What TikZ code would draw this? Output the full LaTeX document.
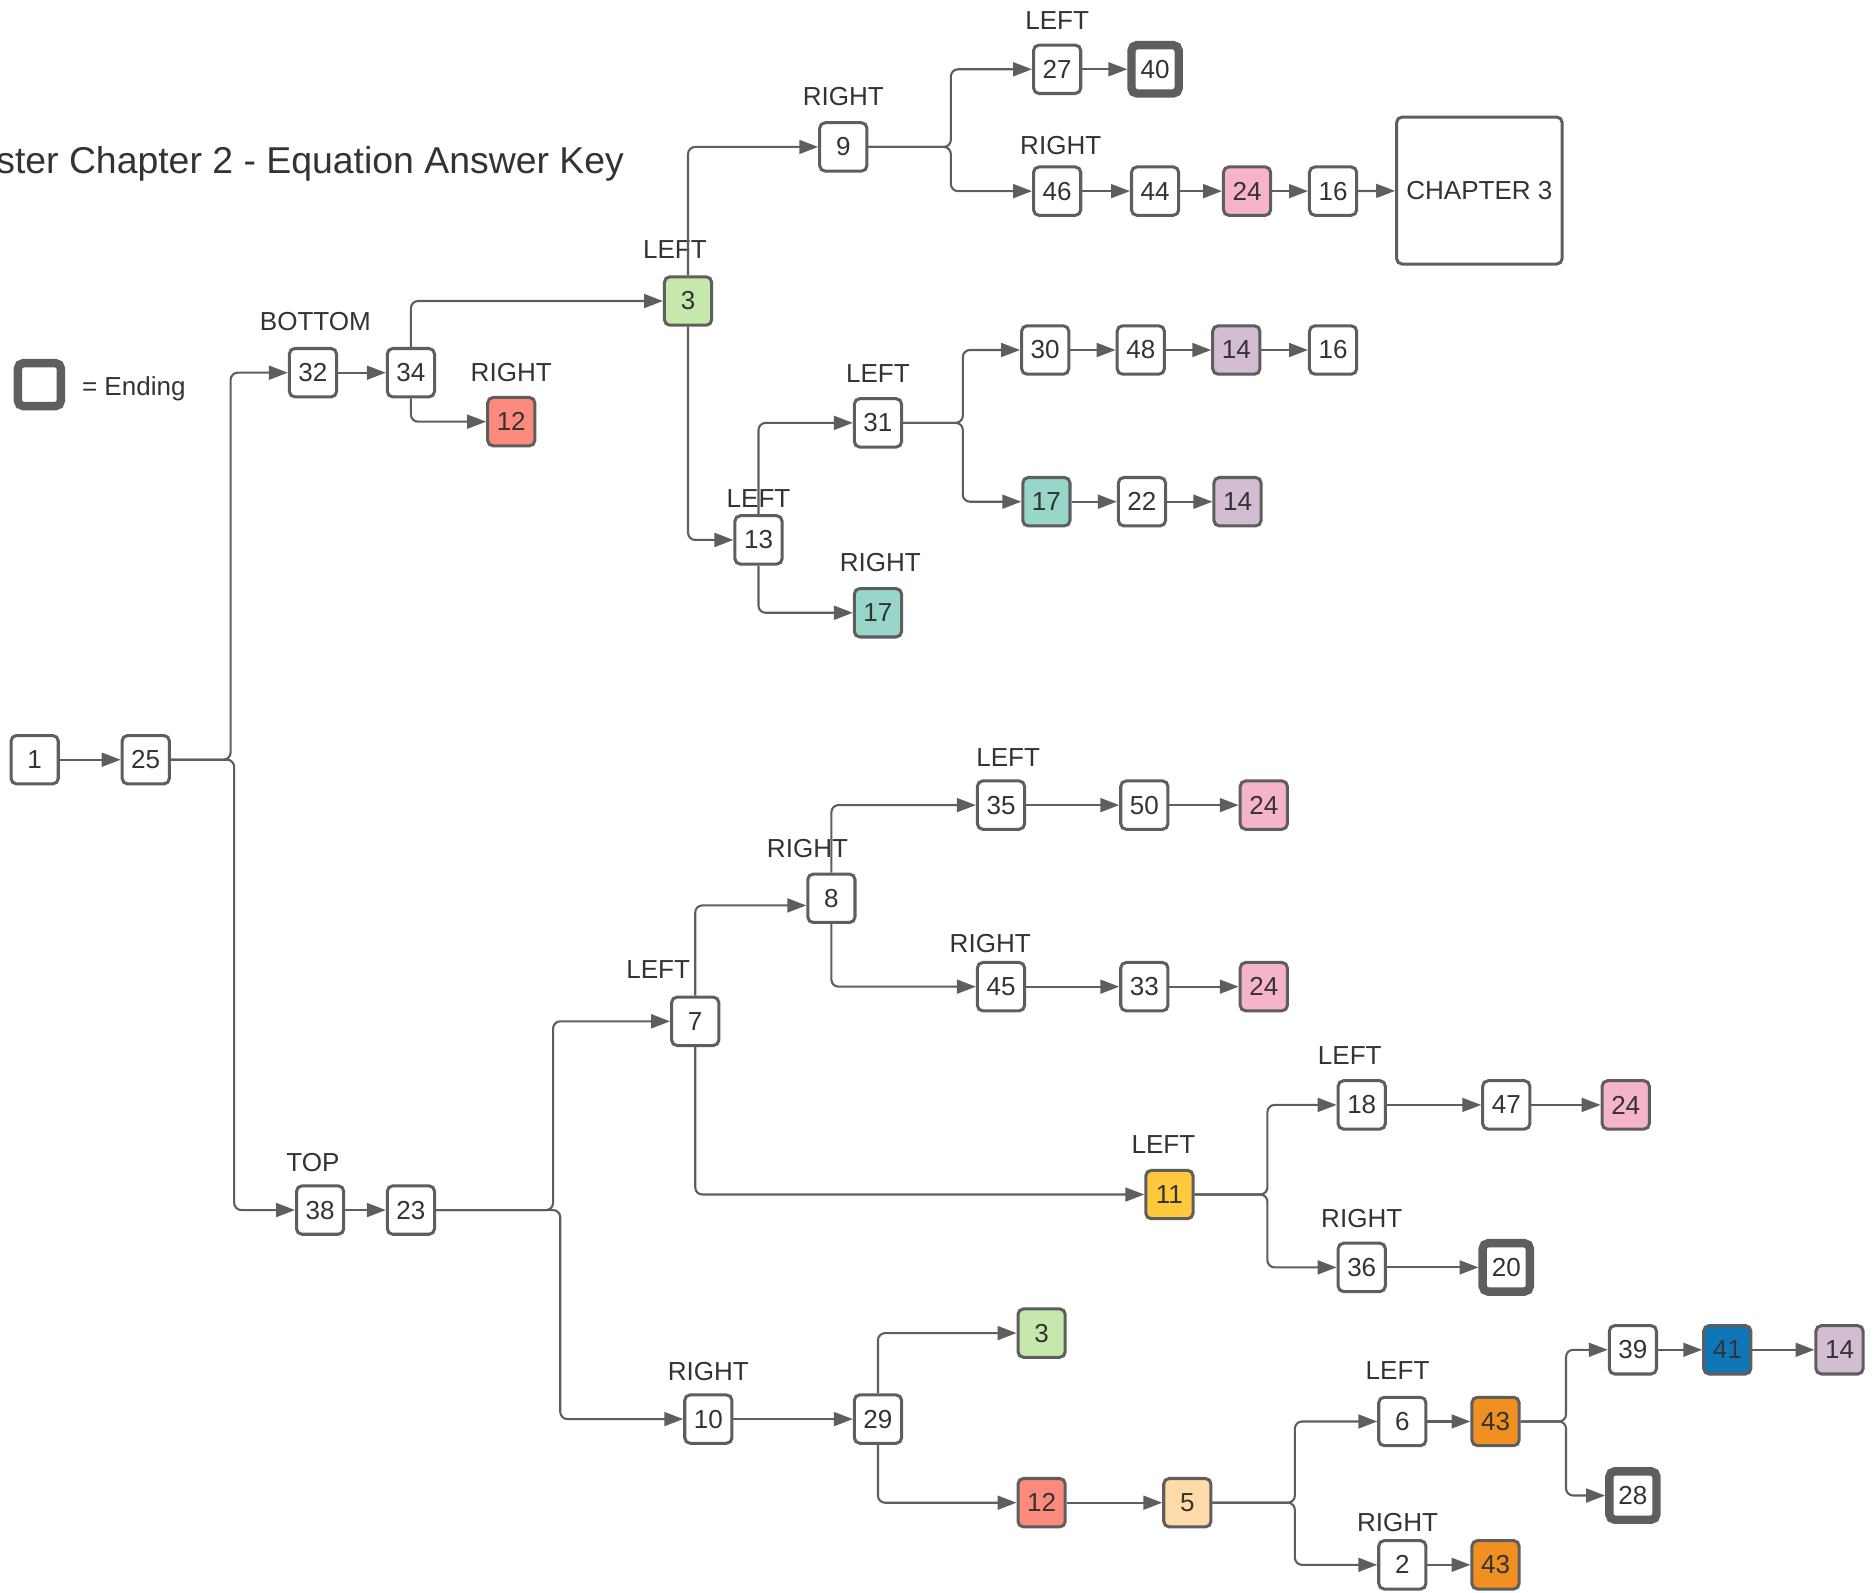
\documentclass[tikz,border=0pt]{standalone}
\usepackage{fontspec}
\setmainfont{Liberation Sans}
\usetikzlibrary{arrows.meta}
\definecolor{nline}{RGB}{94,94,94}
\definecolor{ntext}{RGB}{51,51,51}
\definecolor{nred}{RGB}{252,139,125}
\definecolor{ngreen}{RGB}{199,232,172}
\definecolor{npink}{RGB}{245,180,200}
\definecolor{nteal}{RGB}{153,214,202}
\definecolor{npurple}{RGB}{211,189,211}
\definecolor{nyellow}{RGB}{255,201,61}
\definecolor{npeach}{RGB}{255,219,169}
\definecolor{norange}{RGB}{240,143,34}
\definecolor{nblue}{RGB}{16,118,186}

\begin{document}
\begin{tikzpicture}[x=0.01cm, y=-0.01cm,
    num/.style={draw=nline, fill=white, line width=0.72pt, rounded corners=1.3pt,
        minimum width=0.395cm, minimum height=0.405cm, inner sep=0pt,
        text=ntext, font=\fontsize{6.2pt}{7pt}\selectfont},
    ending/.style={num, line width=2pt},
    tag/.style={inner sep=0pt, text=ntext, font=\fontsize{6.2pt}{7pt}\selectfont},
    link/.style={draw=nline, line width=0.5pt, rounded corners=1.7pt, ->,
        >={Triangle[length=4.5pt,width=3.3pt]}}]
    \useasboundingbox (0,0) rectangle (1568,1333);

    % title and legend
    \node[anchor=base east, inner sep=0pt, text=ntext, font=\fontsize{8.9pt}{10pt}\selectfont]
        (title) at (523,145) {ster Chapter 2 - Equation Answer Key};
    \node[ending, minimum width=0.36cm, minimum height=0.36cm] (legend) at (33,322) {};
    \node[tag, anchor=base west] (legendtxt) at (68,331) {= Ending};

    % start
    \node[num] (n1) at (29,636) {1};
    \node[num] (n25) at (122,636) {25};

    % bottom branch (upper half)
    \node[num] (n32) at (262,312) {32};
    \node[num] (n34) at (344,312) {34};
    \node[num, fill=nred] (n12a) at (428,353) {12};
    \node[num, fill=ngreen] (n3a) at (576,252) {3};
    \node[num] (n9) at (706,123) {9};
    \node[num] (n27) at (885,58) {27};
    \node[ending] (n40) at (967,58) {40};
    \node[num] (n46) at (885,160) {46};
    \node[num] (n44) at (967,160) {44};
    \node[num, fill=npink] (n24a) at (1044,160) {24};
    \node[num] (n16a) at (1116,160) {16};
    \node[num, minimum width=1.385cm, minimum height=1.23cm] (chap) at (1238.5,159.5) {CHAPTER 3};
    \node[num] (n13) at (635,452) {13};
    \node[num] (n31) at (735,354) {31};
    \node[num, fill=nteal] (n17a) at (735,513) {17};
    \node[num] (n30) at (875,293) {30};
    \node[num] (n48) at (955,293) {48};
    \node[num, fill=npurple] (n14a) at (1035,293) {14};
    \node[num] (n16b) at (1116,293) {16};
    \node[num, fill=nteal] (n17b) at (876,420) {17};
    \node[num] (n22) at (956,420) {22};
    \node[num, fill=npurple] (n14b) at (1036,420) {14};

    % top branch (lower half)
    \node[num] (n38) at (268,1013) {38};
    \node[num] (n23) at (344,1013) {23};
    \node[num] (n7) at (582,855) {7};
    \node[num] (n8) at (696,752) {8};
    \node[num] (n35) at (838,674) {35};
    \node[num] (n50) at (958,674) {50};
    \node[num, fill=npink] (n24b) at (1058,674) {24};
    \node[num] (n45) at (838,826) {45};
    \node[num] (n33) at (958,826) {33};
    \node[num, fill=npink] (n24c) at (1058,826) {24};
    \node[num, fill=nyellow] (n11) at (979,1000) {11};
    \node[num] (n18) at (1140,925) {18};
    \node[num] (n47) at (1261,925) {47};
    \node[num, fill=npink] (n24d) at (1361,925) {24};
    \node[num] (n36) at (1140,1061) {36};
    \node[ending] (n20) at (1261,1061) {20};
    \node[num] (n10) at (593,1188) {10};
    \node[num] (n29) at (735,1188) {29};
    \node[num, fill=ngreen] (n3b) at (872,1116) {3};
    \node[num, fill=nred] (n12b) at (872,1258) {12};
    \node[num, fill=npeach] (n5) at (994,1258) {5};
    \node[num] (n6) at (1174,1190) {6};
    \node[num, fill=norange] (n43a) at (1252,1190) {43};
    \node[num] (n2) at (1174,1310) {2};
    \node[num, fill=norange] (n43b) at (1252,1310) {43};
    \node[num] (n39) at (1367,1130) {39};
    \node[num, fill=nblue] (n41) at (1446,1130) {41};
    \node[num, fill=npurple] (n14c) at (1540,1130) {14};
    \node[ending] (n28) at (1367,1252) {28};

    % branch tags
    \node[tag] (t32) at (264,269) {BOTTOM};
    \node[tag] (t12a) at (428,312) {RIGHT};
    \node[tag] (t3a) at (565,209) {LEFT};
    \node[tag] (t9) at (706,81) {RIGHT};
    \node[tag] (t27) at (885,17) {LEFT};
    \node[tag] (t46) at (888,122) {RIGHT};
    \node[tag] (t31) at (735,313) {LEFT};
    \node[tag] (t13) at (635,417) {LEFT};
    \node[tag] (t17a) at (737,471) {RIGHT};
    \node[tag] (t38) at (262,973) {TOP};
    \node[tag] (t7) at (551,812) {LEFT};
    \node[tag] (t8) at (676,710) {RIGHT};
    \node[tag] (t35) at (844,634) {LEFT};
    \node[tag] (t45) at (829,790) {RIGHT};
    \node[tag] (t11) at (974,958) {LEFT};
    \node[tag] (t18) at (1130,884) {LEFT};
    \node[tag] (t36) at (1140,1020) {RIGHT};
    \node[tag] (t10) at (593,1148) {RIGHT};
    \node[tag] (t6) at (1170,1147) {LEFT};
    \node[tag] (t2) at (1170,1275) {RIGHT};

    % connectors
    \draw[link] (n1) -- (n25);
    \draw[link] (n25.east) -- ++(50,0) |- (n32.west);
    \draw[link] (n25.east) -- ++(53,0) |- (n38.west);
    \draw[link] (n32) -- (n34);
    \draw[link] (n34.north) |- (n3a.west);
    \draw[link] (n34.south) |- (n12a.west);
    \draw[link] (n3a.north) |- (n9.west);
    \draw[link] (n3a.south) |- (n13.west);
    \draw[link] (n9.east) -- ++(69,0) |- (n27.west);
    \draw[link] (n9.east) -- ++(69,0) |- (n46.west);
    \draw[link] (n27) -- (n40);
    \draw[link] (n46) -- (n44);
    \draw[link] (n44) -- (n24a);
    \draw[link] (n24a) -- (n16a);
    \draw[link] (n16a) -- (chap);
    \draw[link] (n13.north) |- (n31.west);
    \draw[link] (n13.south) |- (n17a.west);
    \draw[link] (n31.east) -- ++(50,0) |- (n30.west);
    \draw[link] (n31.east) -- ++(50,0) |- (n17b.west);
    \draw[link] (n30) -- (n48);
    \draw[link] (n48) -- (n14a);
    \draw[link] (n14a) -- (n16b);
    \draw[link] (n17b) -- (n22);
    \draw[link] (n22) -- (n14b);

    \draw[link] (n38) -- (n23);
    \draw[link] (n23.east) -- ++(98,0) |- (n7.west);
    \draw[link] (n23.east) -- ++(104,0) |- (n10.west);
    \draw[link] (n7.north) |- ([yshift=-1.7pt]n8.west);
    \draw[link] (n8.north) |- (n35.west);
    \draw[link] (n8.south) |- (n45.west);
    \draw[link] (n35) -- (n50);
    \draw[link] (n50) -- (n24b);
    \draw[link] (n45) -- (n33);
    \draw[link] (n33) -- (n24c);
    \draw[link] (n7.south) |- (n11.west);
    \draw[link] (n11.east) -- ++(61,0) |- (n18.west);
    \draw[link] (n11.east) -- ++(61,0) |- (n36.west);
    \draw[link] (n18) -- (n47);
    \draw[link] (n47) -- (n24d);
    \draw[link] (n36) -- (n20);
    \draw[link] (n10) -- (n29);
    \draw[link] (n29.north) |- (n3b.west);
    \draw[link] (n29.south) |- (n12b.west);
    \draw[link] (n12b) -- (n5);
    \draw[link] (n5.east) -- ++(69,0) |- (n6.west);
    \draw[link] (n5.east) -- ++(69,0) |- (n2.west);
    \draw[link] (n6) -- (n43a);
    \draw[link] (n2) -- (n43b);
    \draw[link] (n43a.east) -- ++(38,0) |- (n39.west);
    \draw[link] (n43a.east) -- ++(38,0) |- (n28.west);
    \draw[link] (n39) -- (n41);
    \draw[link] (n41) -- (n14c);
\end{tikzpicture}
\end{document}
